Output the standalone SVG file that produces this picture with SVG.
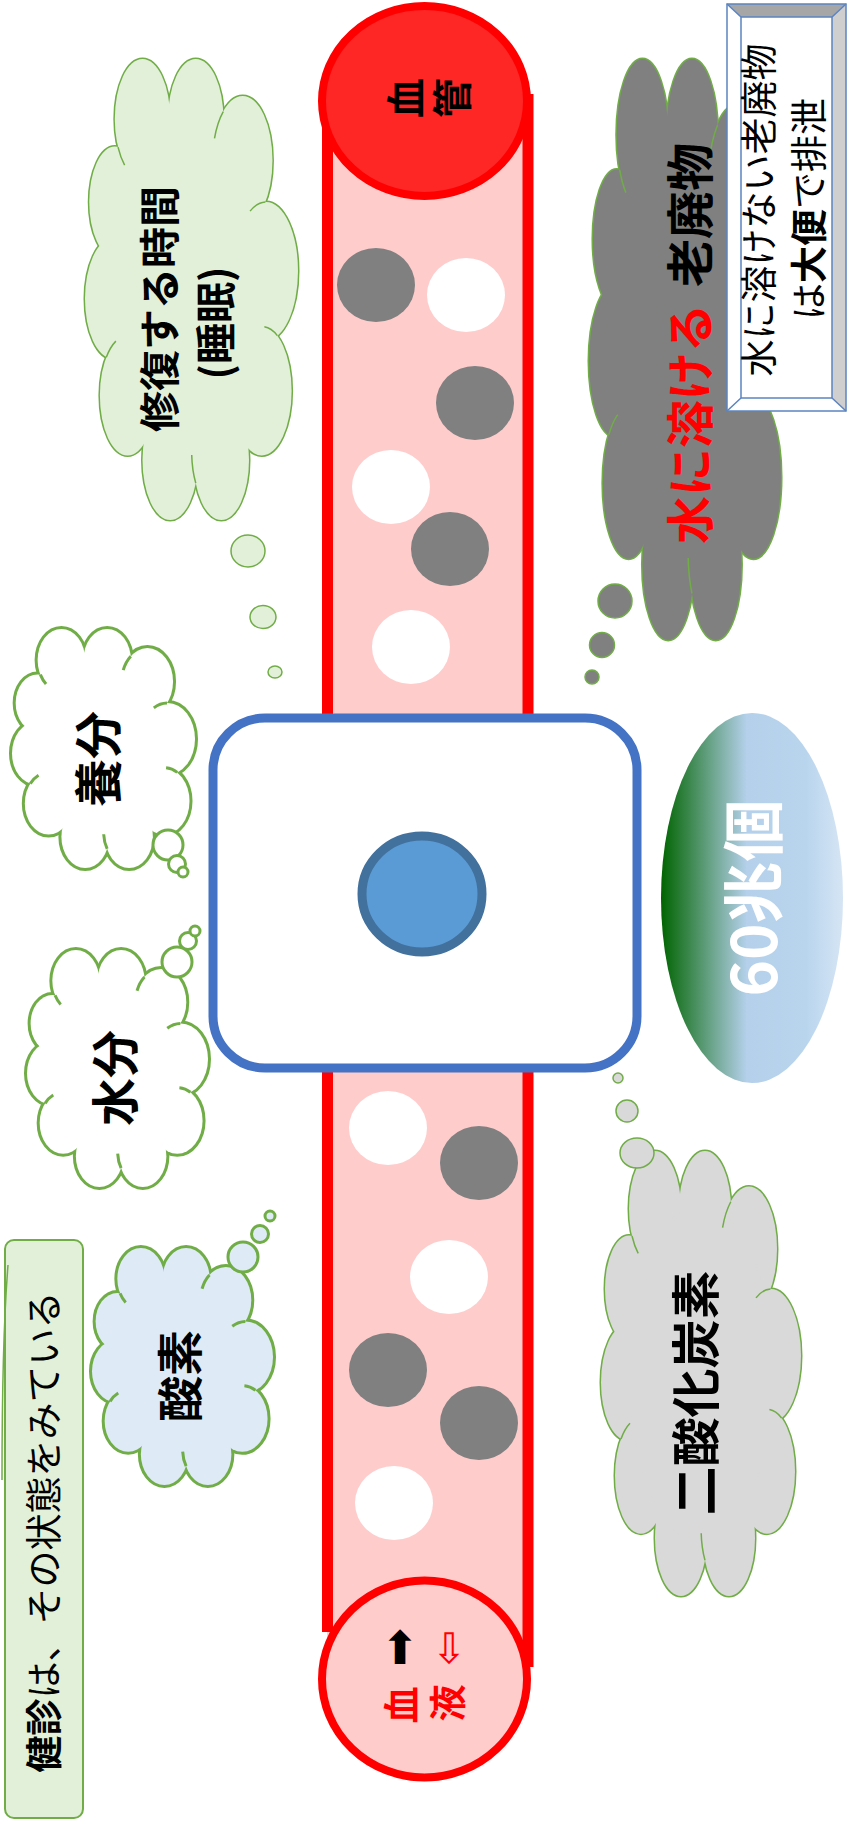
<svg xmlns="http://www.w3.org/2000/svg" width="848" height="1821" viewBox="0 0 848 1821">
<style>
.t{font-family:"Noto Sans CJK JP","Noto Sans CJK SC",sans-serif;text-anchor:middle;dominant-baseline:central}
.b{font-weight:700}
.dg{fill:#808080}
.dw{fill:#FFFFFF}
.ar{font-family:"DejaVu Sans",sans-serif;text-anchor:middle;dominant-baseline:central}
</style>
<defs>
<g id="lobes">
<circle cx="27" cy="13" r="13" vector-effect="non-scaling-stroke"/>
<circle cx="52" cy="13" r="13" vector-effect="non-scaling-stroke"/>
<circle cx="74" cy="22" r="14" vector-effect="non-scaling-stroke"/>
<circle cx="85" cy="46" r="15" vector-effect="non-scaling-stroke"/>
<circle cx="83" cy="72" r="14" vector-effect="non-scaling-stroke"/>
<circle cx="64" cy="87" r="13" vector-effect="non-scaling-stroke"/>
<circle cx="40" cy="87" r="13" vector-effect="non-scaling-stroke"/>
<circle cx="20" cy="73" r="13" vector-effect="non-scaling-stroke"/>
<circle cx="13" cy="52" r="13" vector-effect="non-scaling-stroke"/>
<circle cx="14" cy="31" r="12" vector-effect="non-scaling-stroke"/>
</g>
<g id="cfill">
<use href="#lobes"/>
<ellipse cx="50" cy="50" rx="36" ry="38"/>
</g>
<g id="inner">
<path d="M64.9,11.4 A14,14 0 0 0 60.8,17.2" vector-effect="non-scaling-stroke"/>
<path d="M84.7,31 A15,15 0 0 0 77.5,33" vector-effect="non-scaling-stroke"/>
<path d="M90.3,60 A14,14 0 0 0 84.2,58.1" vector-effect="non-scaling-stroke"/>
<path d="M52,92 A13,13 0 0 1 50.1,85.9" vector-effect="non-scaling-stroke"/>
<path d="M10,64.7 A13,13 0 0 1 14.5,61.2" vector-effect="non-scaling-stroke"/>
<path d="M15.5,19.1 A13,13 0 0 0 18.6,23" vector-effect="non-scaling-stroke"/>
</g>
<linearGradient id="g60" x1="0" y1="0" x2="1" y2="0">
<stop offset="0" stop-color="#006400"/>
<stop offset="0.47" stop-color="#B4D0EA"/>
<stop offset="0.8" stop-color="#B9D5EE"/>
<stop offset="1" stop-color="#D6E5F4"/>
</linearGradient>
</defs>

<g id="vessel">
<rect x="327" y="101" width="201" height="1578" fill="#FFCCCC"/>
<line x1="327.5" y1="115" x2="327.5" y2="1632" stroke="#FF0000" stroke-width="11"/>
<line x1="528" y1="94" x2="528" y2="1667" stroke="#FF0000" stroke-width="11"/>
<ellipse class="dg" cx="376" cy="285" rx="39" ry="37"/>
<ellipse class="dw" cx="466" cy="295" rx="39" ry="37"/>
<ellipse class="dg" cx="475" cy="403" rx="39" ry="37"/>
<ellipse class="dw" cx="391" cy="487" rx="39" ry="37"/>
<ellipse class="dg" cx="450" cy="549" rx="39" ry="37"/>
<ellipse class="dw" cx="411" cy="647" rx="39" ry="37"/>
<ellipse class="dw" cx="388" cy="1128" rx="39" ry="37"/>
<ellipse class="dg" cx="479" cy="1163" rx="39" ry="37"/>
<ellipse class="dw" cx="449" cy="1277" rx="39" ry="37"/>
<ellipse class="dg" cx="388" cy="1370" rx="39" ry="37"/>
<ellipse class="dg" cx="479" cy="1423" rx="39" ry="37"/>
<ellipse class="dw" cx="394" cy="1503" rx="39" ry="37"/>
<ellipse cx="424.5" cy="1679" rx="102.5" ry="98.5" fill="#FFCCCC" stroke="#FF0000" stroke-width="8"/>
<ellipse cx="424.5" cy="101" rx="102.5" ry="95" fill="#FF2626" stroke="#FF0000" stroke-width="8"/>
<text class="t b" font-size="40" fill="#000" transform="translate(404,98) rotate(-90)">血</text>
<text class="t b" font-size="40" fill="#000" transform="translate(450,98) rotate(-90)">管</text>
<text class="t b" font-size="37" fill="#FF0000" transform="translate(400,1705) rotate(-90)">血</text>
<text class="t b" font-size="37" fill="#FF0000" transform="translate(446,1703) rotate(-90)">液</text>
<text class="ar" font-size="46" fill="#000" x="400" y="1648">⬆</text>
<text class="ar" font-size="42" fill="#FF0000" x="449" y="1648">⇩</text>
</g>

<g id="cell">
<rect x="213" y="718" width="424" height="350" rx="52" ry="52" fill="#FFFFFF" stroke="#4472C4" stroke-width="9"/>
<ellipse cx="422" cy="894" rx="60" ry="58" fill="#5B9BD5" stroke="#41719C" stroke-width="9"/>
</g>

<g id="cloud-repair">
<g transform="translate(85,59) scale(2.13,4.61)">
<use href="#lobes" fill="#E2F0D9" stroke="#70AD47" stroke-width="3"/>
<use href="#cfill" fill="#E2F0D9" stroke="none"/>
<use href="#inner" fill="none" stroke="#70AD47" stroke-width="1.5"/>
</g>
<g fill="#E2F0D9" stroke="#70AD47" stroke-width="1.5">
<ellipse cx="248" cy="551" rx="17" ry="16"/>
<ellipse cx="263" cy="617" rx="13" ry="11.5"/>
<ellipse cx="275" cy="672" rx="7" ry="6"/>
</g>
<text class="t b" font-size="41" fill="#000" transform="translate(157,309) rotate(-90)">修復する時間</text>
<text class="t b" font-size="41" fill="#000" transform="translate(213,323) rotate(-90)">(睡眠)</text>
</g>

<g id="cloud-nutrition">
<g transform="translate(12,629) scale(1.83,2.39)">
<use href="#lobes" fill="#FFFFFF" stroke="#70AD47" stroke-width="6"/>
<use href="#cfill" fill="#FFFFFF" stroke="none"/>
<use href="#inner" fill="none" stroke="#70AD47" stroke-width="3"/>
</g>
<g fill="#FFFFFF" stroke="#70AD47" stroke-width="3">
<circle cx="168" cy="845" r="15"/>
<circle cx="177" cy="864" r="8.5"/>
<circle cx="183" cy="872" r="5"/>
</g>
<text class="t b" font-size="48" fill="#000" transform="translate(95,759) rotate(-90)">養分</text>
</g>

<g id="cloud-water">
<g transform="translate(27,950) scale(1.81,2.37)">
<use href="#lobes" fill="#FFFFFF" stroke="#70AD47" stroke-width="6"/>
<use href="#cfill" fill="#FFFFFF" stroke="none"/>
<use href="#inner" fill="none" stroke="#70AD47" stroke-width="3"/>
</g>
<g fill="#FFFFFF" stroke="#70AD47" stroke-width="3">
<circle cx="177" cy="962" r="15"/>
<circle cx="188" cy="941" r="8.5"/>
<circle cx="195" cy="931" r="5"/>
</g>
<text class="t b" font-size="48" fill="#000" transform="translate(112,1078) rotate(-90)">水分</text>
</g>

<g id="cloud-oxygen">
<g transform="translate(92,1248) scale(1.81,2.37)">
<use href="#lobes" fill="#DEEBF7" stroke="#70AD47" stroke-width="6"/>
<use href="#cfill" fill="#DEEBF7" stroke="none"/>
<use href="#inner" fill="none" stroke="#70AD47" stroke-width="3"/>
</g>
<g fill="#DEEBF7" stroke="#70AD47" stroke-width="3">
<circle cx="243" cy="1257" r="15"/>
<circle cx="260" cy="1234" r="8.5"/>
<circle cx="270" cy="1216" r="5"/>
</g>
<text class="t b" font-size="46" fill="#000" transform="translate(177,1376) rotate(-90)">酸素</text>
</g>

<g id="cloud-waste">
<g transform="translate(589,59) scale(1.98,5.81)">
<use href="#lobes" fill="#808080" stroke="#70AD47" stroke-width="3"/>
<use href="#cfill" fill="#808080" stroke="none"/>
<use href="#inner" fill="none" stroke="#70AD47" stroke-width="1.5"/>
</g>
<g fill="#808080" stroke="#70AD47" stroke-width="1.5">
<circle cx="615" cy="601" r="17"/>
<circle cx="602" cy="645" r="12.5"/>
<circle cx="592" cy="677" r="7"/>
</g>
<text class="t b" font-size="48" fill="#000" transform="translate(687,215) rotate(-90)">老廃物</text>
<text class="t b" font-size="48" fill="#FF0000" transform="translate(687,424) rotate(-90)">水に溶ける</text>
</g>

<g id="note-feces">
<polygon points="727,4 846,4 832,17 741,17" fill="#A6A6A6"/>
<polygon points="846,4 846,411 832,398 832,17" fill="#CFCFCF"/>
<polygon points="727,411 846,411 832,398 741,398" fill="#FFFFFF"/>
<polygon points="727,4 741,17 741,398 727,411" fill="#FFFFFF"/>
<rect x="741" y="17" width="91" height="381" fill="#FFFFFF"/>
<g fill="none" stroke="#5B84C0" stroke-width="1.5">
<rect x="727" y="4" width="119" height="407"/>
<rect x="741" y="17" width="91" height="381"/>
<path d="M727,4 L741,17 M846,4 L832,17 M846,411 L832,398 M727,411 L741,398"/>
</g>
<text class="t" font-size="37" fill="#000" transform="translate(757,210) rotate(-90)">水に溶けない老廃物</text>
<text class="t" font-size="37" fill="#000" transform="translate(807,209) rotate(-90)">は<tspan class="b">大便</tspan>で排泄</text>
</g>

<g id="count">
<ellipse cx="752" cy="898" rx="91" ry="185" fill="url(#g60)"/>
<text class="t b" font-size="62" fill="#FFFFFF" transform="translate(750,898) rotate(-90)">60兆個</text>
</g>

<g id="cloud-co2">
<g transform="translate(601,1151) scale(2.0,4.45)">
<use href="#lobes" fill="#D9D9D9" stroke="#70AD47" stroke-width="3"/>
<use href="#cfill" fill="#D9D9D9" stroke="none"/>
<use href="#inner" fill="none" stroke="#70AD47" stroke-width="1.5"/>
</g>
<g fill="#D9D9D9" stroke="#70AD47" stroke-width="1.5">
<ellipse cx="637" cy="1153" rx="17" ry="15"/>
<circle cx="627" cy="1111" r="11"/>
<circle cx="618" cy="1078" r="5"/>
</g>
<text class="t b" font-size="49" fill="#000" transform="translate(692,1393) rotate(-90)">二酸化炭素</text>
</g>

<g id="note-checkup">
<rect x="5" y="1240" width="78" height="578" rx="9" ry="9" fill="#E2F0D9" stroke="#70AD47" stroke-width="2"/>
<text class="t" font-size="37" fill="#000" transform="translate(42,1532) rotate(-90)"><tspan class="b">健診</tspan>は、その状態をみている</text>
<path d="M8,1265 Q2,1340 2,1480" fill="none" stroke="#70AD47" stroke-width="1.5"/>
</g>

<g id="connectors"/>
</svg>
